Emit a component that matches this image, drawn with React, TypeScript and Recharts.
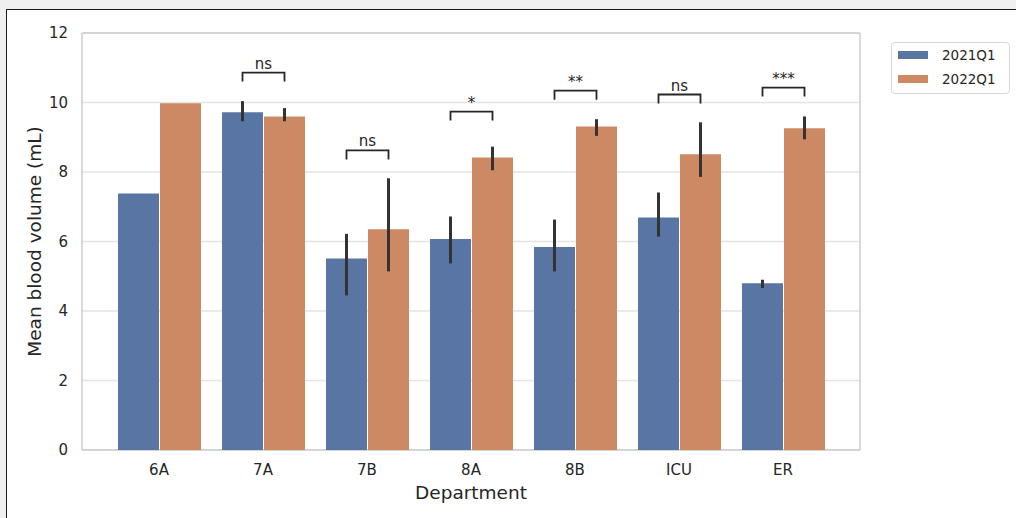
import React from "react";
import {
  BarChart,
  Bar,
  XAxis,
  YAxis,
  CartesianGrid,
  ErrorBar,
  LabelList,
  Legend,
} from "recharts";

const departments = ["6A", "7A", "7B", "8A", "8B", "ICU", "ER"];

// bar heights (mean blood volume, mL)
const mean2021 = [7.38, 9.72, 5.51, 6.07, 5.84, 6.69, 4.8];
const mean2022 = [9.98, 9.6, 6.35, 8.42, 9.31, 8.51, 9.26];

// confidence interval ends
const low2021 = [7.38, 9.46, 4.45, 5.37, 5.14, 6.14, 4.66];
const high2021 = [7.38, 10.04, 6.22, 6.72, 6.63, 7.41, 4.9];
const low2022 = [9.98, 9.46, 5.14, 8.05, 9.04, 7.86, 8.94];
const high2022 = [9.98, 9.84, 7.82, 8.73, 9.52, 9.43, 9.6];

// significance brackets (height of the bar in mL + label)
const bracketY = [null, 10.86, 8.62, 9.74, 10.34, 10.23, 10.43];
const bracketText = [null, "ns", "ns", "*", "**", "ns", "***"];

const yTicks = [0, 2, 4, 6, 8, 10, 12];

const BLUE = "#5975a4";
const ORANGE = "#cc8963";
const INK = "#262626";
const FONT = "DejaVu Sans";

const data = departments.map((d, i) => ({
  dept: d,
  y2021: mean2021[i],
  y2022: mean2022[i],
  err2021: [mean2021[i] - low2021[i], high2021[i] - mean2021[i]],
  err2022: [mean2022[i] - low2022[i], high2022[i] - mean2022[i]],
}));

function Bracket(props: any) {
  const vb = props.viewBox || props;
  const index = props.index;
  const level = bracketY[index];
  if (level == null) return null;
  const x = Number(vb.x);
  const y = Number(vb.y);
  const w = Number(vb.width);
  const h = Number(vb.height);
  const bottom = y + h;
  const ppu = h / mean2022[index];
  const by = bottom - level * ppu;
  const left = x - 1 - w / 2;
  const right = x + w / 2;
  return (
    <g>
      <path
        d={`M${left},${by + 9} V${by} H${right} V${by + 9}`}
        stroke={INK}
        strokeWidth={1.8}
        fill="none"
      />
      <text
        x={(left + right) / 2}
        y={by - 4}
        textAnchor="middle"
        fontSize={15}
        fontFamily={FONT}
        fill={INK}
      >
        {bracketText[index]}
      </text>
    </g>
  );
}

function LegendBox() {
  const items = [
    { name: "2021Q1", color: BLUE },
    { name: "2022Q1", color: ORANGE },
  ];
  return (
    <div
      style={{
        border: "1px solid #d6d6d6",
        borderRadius: 4,
        background: "#fff",
        padding: "0 6px 2px 6px",
        fontFamily: FONT,
        fontSize: 13.5,
        color: INK,
      }}
    >
      {items.map((it) => (
        <div
          key={it.name}
          style={{ display: "flex", alignItems: "center", height: 24 }}
        >
          <span
            style={{
              display: "inline-block",
              width: 30,
              height: 8,
              background: it.color,
              marginRight: 14,
            }}
          />
          <span>{it.name}</span>
        </div>
      ))}
    </div>
  );
}

export default function App() {
  return (
    <div
      style={{
        position: "fixed",
        left: 0,
        top: 0,
        width: 1016,
        height: 518,
        background: "#f0f0f0",
        overflow: "hidden",
      }}
    >
      <div
        style={{
          position: "absolute",
          left: 6,
          top: 9,
          right: -4,
          bottom: -4,
          background: "#fff",
          borderLeft: "1.5px solid #1a1a1a",
          borderTop: "1.5px solid #1a1a1a",
        }}
      />
      <div style={{ position: "absolute", left: 0, top: 0 }}>
        <BarChart
          width={1016}
          height={518}
          data={data}
          margin={{ top: 33, right: 156, left: 22, bottom: 13 }}
          barCategoryGap={11}
          barGap={1}
          style={{ fontFamily: FONT }}
        >
          <CartesianGrid
            vertical={false}
            stroke="#e3e3e3"
            strokeWidth={1.5}
          />
          <CartesianGrid
            stroke="#cccccc"
            strokeWidth={1.5}
            verticalCoordinatesGenerator={({ offset }: any) => [
              offset.left,
              offset.left + offset.width,
            ]}
            horizontalCoordinatesGenerator={({ offset }: any) => [
              offset.top,
              offset.top + offset.height,
            ]}
          />
          <XAxis
            dataKey="dept"
            padding={{ left: 25, right: 25 }}
            axisLine={false}
            tickLine={false}
            tickSize={0}
            tickMargin={14}
            height={55}
            tick={{ fill: INK, fontSize: 15, fontFamily: FONT }}
            label={{
              value: "Department",
              position: "insideBottom",
              offset: 6,
              fill: INK,
              fontSize: 18.5,
              fontFamily: FONT,
            }}
          />
          <YAxis
            domain={[0, 12]}
            ticks={yTicks}
            axisLine={false}
            tickLine={false}
            tickSize={0}
            tickMargin={14}
            width={60}
            tick={{ fill: INK, fontSize: 15, fontFamily: FONT }}
            label={{
              value: "Mean blood volume (mL)",
              angle: -90,
              position: "insideLeft",
              offset: 12,
              fill: INK,
              fontSize: 18.5,
              fontFamily: FONT,
              style: { textAnchor: "middle" },
            }}
          />
          <Legend
            layout="vertical"
            align="center"
            verticalAlign="middle"
            content={() => <LegendBox />}
            wrapperStyle={{ left: 891, top: 42, width: 119 }}
          />
          <Bar dataKey="y2021" name="2021Q1" fill={BLUE} isAnimationActive={false}>
            <ErrorBar
              dataKey="err2021"
              width={0}
              stroke="#333333"
              strokeWidth={3}
              direction="y"
            />
          </Bar>
          <Bar dataKey="y2022" name="2022Q1" fill={ORANGE} isAnimationActive={false}>
            <ErrorBar
              dataKey="err2022"
              width={0}
              stroke="#333333"
              strokeWidth={3}
              direction="y"
            />
            <LabelList dataKey="y2022" content={<Bracket />} />
          </Bar>
        </BarChart>
      </div>
    </div>
  );
}
